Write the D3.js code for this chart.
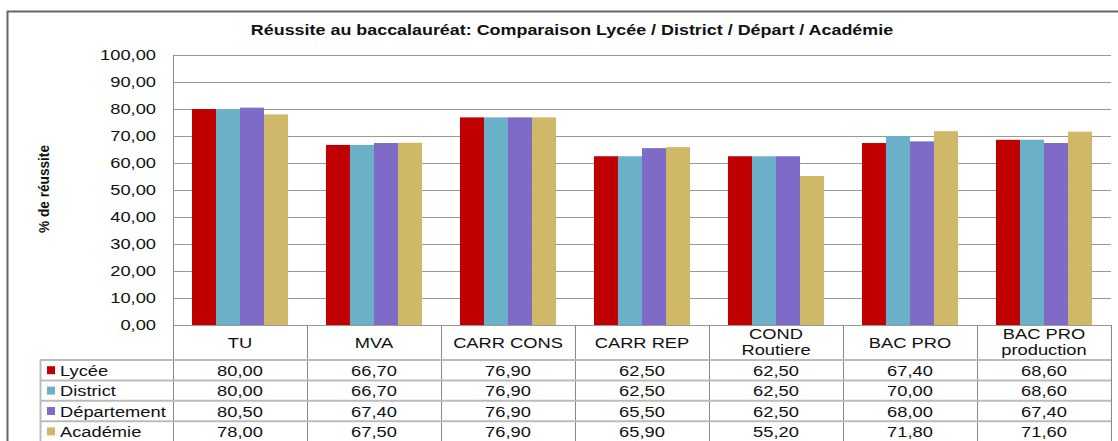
<!DOCTYPE html>
<html>
<head>
<meta charset="utf-8">
<script src="https://cdn.jsdelivr.net/npm/d3@7"></script>
<style>
  body { margin: 0; background: #fff; }
  text { font-family: "Liberation Sans", Arial, sans-serif; fill: #111; }
</style>
</head>
<body>
<div id="chart"></div>
<script>
// Data
var categories = ['TU', 'MVA', 'CARR CONS', 'CARR REP', 'COND\nRoutiere', 'BAC PRO', 'BAC PRO\nproduction']
var seriesNames = ['Lycée', 'District', 'Département', 'Académie']
var seriesColors = ['#c00000', '#6ab0c9', '#7e6bc8', '#cfb968']
var lycee = [80.0, 66.7, 76.9, 62.5, 62.5, 67.4, 68.6]
var district = [80.0, 66.7, 76.9, 62.5, 62.5, 70.0, 68.6]
var departement = [80.5, 67.4, 76.9, 65.5, 62.5, 68.0, 67.4]
var academie = [78.0, 67.5, 76.9, 65.9, 55.2, 71.8, 71.6]
var yTicks = [0, 10, 20, 30, 40, 50, 60, 70, 80, 90, 100]

var seriesValues = [lycee, district, departement, academie]
var fmt = v => v.toFixed(2).replace('.', ',')

var width = 1118
var height = 441
var plot = { left: 173, right: 1111, top: 55, bottom: 325 }
var SX = 1.22 // the original text is drawn horizontally stretched

var svg = d3.select('#chart')
  .append('svg')
  .attr('width', width)
  .attr('height', height)

// put a text at (x, y) with a horizontal stretch
function label(parent, str, x, y, size, anchor, sx) {
  return parent.append('text')
    .text(str)
    .attr('transform', `translate(${x}, ${y}) scale(${sx || SX}, 1)`)
    .attr('text-anchor', anchor || 'middle')
    .attr('font-size', size)
}

// outer frame
svg.append('path')
  .attr('d', `M7.5,${height} L7.5,11.5 L${width},11.5`)
  .attr('fill', 'none')
  .attr('stroke', '#666')
  .attr('stroke-width', 2)

// title
label(svg, 'Réussite au baccalauréat: Comparaison Lycée / District / Départ / Académie', 572, 35, 14, 'middle', 1.28)
  .attr('font-weight', 'bold')

// scales
var xScale = d3.scaleBand()
  .domain(d3.range(categories.length))
  .range([plot.left, plot.right])

var xInner = d3.scaleBand()
  .domain(d3.range(seriesNames.length))
  .range([0, xScale.bandwidth()])
  .paddingOuter(0.79)

var yScale = d3.scaleLinear()
  .domain([0, 100])
  .range([plot.bottom, plot.top])

// gridlines
svg.append('g')
  .selectAll('line')
  .data(yTicks)
  .enter()
  .append('line')
  .attr('x1', plot.left)
  .attr('x2', plot.right)
  .attr('y1', d => Math.round(yScale(d)) + 0.5)
  .attr('y2', d => Math.round(yScale(d)) + 0.5)
  .attr('stroke', '#999')
  .attr('stroke-width', 1.2)

// y axis labels
var yAxis = d3.axisLeft(yScale)
  .tickValues(yTicks)
  .tickFormat(fmt)
  .tickSize(0)
  .tickPadding(0)
svg.append('g')
  .attr('transform', `translate(${plot.left}, 0)`)
  .call(yAxis)
  .call(g => g.select('.domain').remove())
  .selectAll('text')
  .attr('x', 0)
  .attr('transform', `translate(-17, 0) scale(1.18, 1)`)
  .attr('font-size', 15.5)
  .attr('font-family', '"Liberation Sans", Arial, sans-serif')
  .attr('fill', '#111')

svg.append('text')
  .text('% de réussite')
  .attr('transform', 'translate(49, 189) rotate(-90)')
  .attr('text-anchor', 'middle')
  .attr('font-size', 14.5)
  .attr('font-weight', 'bold')
  .attr('textLength', 88)
  .attr('lengthAdjust', 'spacingAndGlyphs')

// bars
seriesValues.forEach(function(values, si) {
  svg.append('g')
    .selectAll('rect')
    .data(values)
    .enter()
    .append('rect')
    .attr('x', (d, i) => xScale(i) + xInner(si))
    .attr('width', xInner.bandwidth())
    .attr('y', d => yScale(d))
    .attr('height', d => yScale(0) - yScale(d))
    .attr('fill', seriesColors[si])
})

// left axis line
svg.append('line')
  .attr('x1', plot.left + 0.5).attr('x2', plot.left + 0.5)
  .attr('y1', plot.top).attr('y2', height)
  .attr('stroke', '#888')

// data table
var headerBottom = 360
var rowH = 20.4
var legendLeft = 40

// header vertical lines
svg.append('g')
  .selectAll('line')
  .data(d3.range(categories.length + 1))
  .enter()
  .append('line')
  .attr('x1', i => Math.round(plot.left + i * xScale.bandwidth()) + 0.5)
  .attr('x2', i => Math.round(plot.left + i * xScale.bandwidth()) + 0.5)
  .attr('y1', plot.bottom)
  .attr('y2', height)
  .attr('stroke', '#888')

// category labels
categories.forEach(function(c, i) {
  var lines = c.split('\n')
  var cx = xScale(i) + xScale.bandwidth() / 2
  lines.forEach(function(l, li) {
    label(svg, l, cx, (lines.length > 1 ? 339 : 348) + li * 16, 15)
  })
})

// row lines
svg.append('g')
  .selectAll('line')
  .data(d3.range(seriesNames.length))
  .enter()
  .append('line')
  .attr('x1', legendLeft)
  .attr('x2', plot.right)
  .attr('y1', i => headerBottom + i * rowH)
  .attr('y2', i => headerBottom + i * rowH)
  .attr('stroke', '#bbb')
  .attr('stroke-width', 2)

svg.append('line')
  .attr('x1', legendLeft + 0.5).attr('x2', legendLeft + 0.5)
  .attr('y1', headerBottom).attr('y2', height)
  .attr('stroke', '#bbb')
  .attr('stroke-width', 2)

seriesNames.forEach(function(name, si) {
  var yMid = headerBottom + si * rowH + rowH / 2
  svg.append('rect')
    .attr('x', 47)
    .attr('y', yMid - 4)
    .attr('width', 8)
    .attr('height', 8)
    .attr('fill', seriesColors[si])
  label(svg, name, 60, yMid + 5.5, 15, 'start')
  seriesValues[si].forEach(function(v, i) {
    label(svg, fmt(v), xScale(i) + xScale.bandwidth() / 2, yMid + 5.5, 15)
  })
})
</script>
</body>
</html>
